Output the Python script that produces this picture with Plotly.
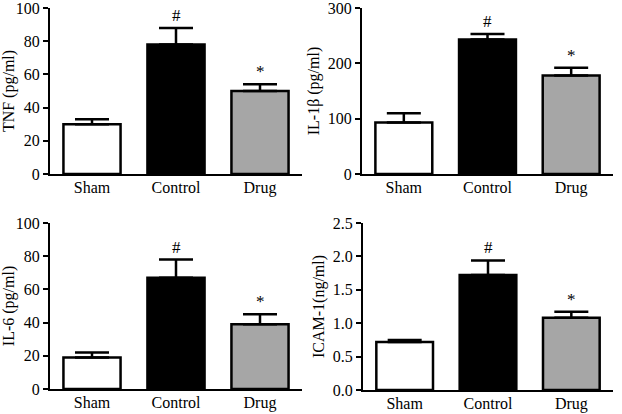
import plotly.graph_objects as go
from plotly.subplots import make_subplots

# data
groups = ["Sham", "Control", "Drug"]
tnf = [30, 78, 50]
tnf_err = [3, 10, 4]
il1b = [93, 243, 178]
il1b_err = [17, 10, 14]
il6 = [19, 67, 39]
il6_err = [3, 11, 6]
icam = [0.72, 1.72, 1.08]
icam_err = [0.03, 0.22, 0.09]
marks = ["", "#", "*"]

titles = ["TNF (pg/ml)", "IL-1β (pg/ml)", "IL-6 (pg/ml)", "ICAM-1(ng/ml)"]
ranges = [[0, 100], [0, 300], [0, 100], [0, 2.5]]
dticks = [20, 100, 20, 0.5]
tickfmt = ["d", "d", "d", ".1f"]
fills = ["white", "black", "#a6a6a6"]

fig = make_subplots(rows=2, cols=2)

panels = [(tnf, tnf_err, 1, 1), (il1b, il1b_err, 1, 2), (il6, il6_err, 2, 1), (icam, icam_err, 2, 2)]
for i, (vals, err, r, c) in enumerate(panels):
    fig.add_trace(go.Bar(x=groups, y=vals, width=0.68,
                         marker=dict(color=fills, line=dict(color="black", width=2.5)),
                         error_y=dict(type="data", symmetric=False, array=err, arrayminus=[0, 0, 0],
                                      color="black", thickness=2.5, width=17),
                         showlegend=False, hoverinfo="skip"), row=r, col=c)
    for g, v, e, m in zip(groups, vals, err, marks):
        if m:
            fig.add_annotation(x=g, y=v + e, text=m, showarrow=False, yanchor="bottom", yshift=1,
                               font=dict(size=17, color="black"), row=r, col=c)
    fig.update_yaxes(range=ranges[i], dtick=dticks[i], tickformat=tickfmt[i],
                     title=dict(text=titles[i], standoff=4), row=r, col=c)

fig.update_xaxes(range=[-0.5, 2.5], showline=True, linecolor="black", linewidth=2, ticks="",
                 showgrid=False, zeroline=False, tickfont=dict(size=16), automargin=False,
                 ticklabelstandoff=-2, ticklabeloverflow="allow")
fig.update_yaxes(showline=True, linecolor="black", linewidth=2, ticks="outside", ticklen=5, tickwidth=2,
                 tickcolor="black", showgrid=False, zeroline=False, tickfont=dict(size=16),
                 title_font=dict(size=16), automargin=False, ticklabeloverflow="allow")

fig.update_layout(xaxis=dict(domain=[50/622, 302/622]), xaxis2=dict(domain=[362/622, 613/622]),
                  xaxis3=dict(domain=[50/622, 302/622]), xaxis4=dict(domain=[363/622, 613/622]),
                  yaxis=dict(domain=[1-174/414, 1-8/414]), yaxis2=dict(domain=[1-174/414, 1-8/414]),
                  yaxis3=dict(domain=[1-389/414, 1-223/414]), yaxis4=dict(domain=[1-390/414, 1-223/414]))

fig.update_layout(width=622, height=414, margin=dict(l=0, r=0, t=0, b=0),
                  plot_bgcolor="white", paper_bgcolor="white",
                  font=dict(family="Liberation Serif", color="black"))
fig.write_html("out.html", config={"displayModeBar": False},
               post_script="document.body.style.margin='0';")
